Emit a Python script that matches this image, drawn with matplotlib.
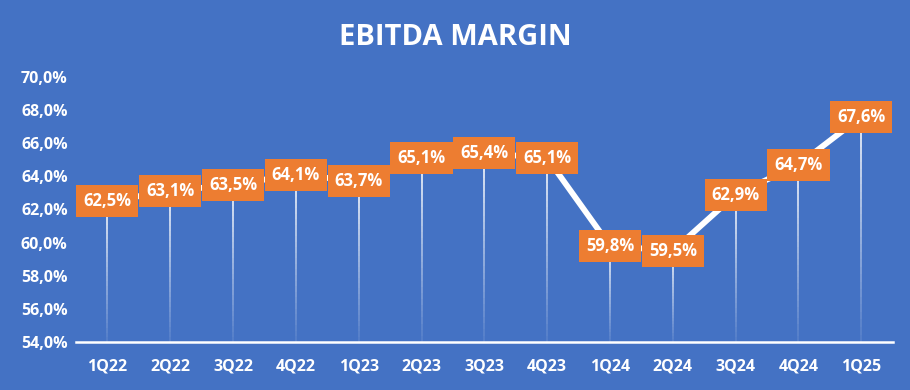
import matplotlib.pyplot as plt
import numpy as np

quarters = ["1Q22", "2Q22", "3Q22", "4Q22", "1Q23", "2Q23", "3Q23", "4Q23",
            "1Q24", "2Q24", "3Q24", "4Q24", "1Q25"]
margin = [62.5, 63.1, 63.5, 64.1, 63.7, 65.1, 65.4, 65.1, 59.8, 59.5, 62.9, 64.7, 67.6]
yticks = [54, 56, 58, 60, 62, 64, 66, 68, 70]

bg = "#4472C4"
orange = "#ED7D31"
plt.rcParams['font.family'] = ['Open Sans', 'DejaVu Sans']

fig = plt.figure(figsize=(9.1, 3.9), dpi=100, facecolor=bg)
ax = fig.add_axes((0.0835, 0.123, 0.8975, 0.68))
ax.set_facecolor(bg)

x = np.arange(len(quarters))

# drop lines fading toward the bottom
n = 30
for xi, yi in zip(x, margin):
    edges = np.linspace(54, yi, n + 1)
    for k in range(n):
        a = 0.1 + 0.9 * (k / (n - 1))
        ax.plot([xi, xi], [edges[k], edges[k + 1]], color="white", lw=1.2,
                alpha=a, solid_capstyle="butt", zorder=1)

ax.plot(x, margin, color="white", lw=4.2, zorder=2, solid_capstyle="butt")

for xi, yi in zip(x, margin):
    ax.text(xi, yi, f"{yi:.1f}%".replace(".", ","), ha="center", va="center",
            color="white", fontsize=12, fontweight="bold", zorder=3,
            bbox=dict(boxstyle="square,pad=0.42", fc=orange, ec="none"))

ax.set_xlim(-0.5, len(quarters) - 0.5)
ax.set_ylim(54, 70)
ax.set_xticks(x)
ax.set_xticklabels(quarters)
ax.set_yticks(yticks)
ax.set_yticklabels([f"{v:.1f}%".replace(".", ",") for v in yticks])
ax.tick_params(length=0, colors="white", labelsize=11.5)
ax.tick_params(axis="x", pad=12)
ax.tick_params(axis="y", pad=6)
for lab in ax.get_xticklabels() + ax.get_yticklabels():
    lab.set_fontweight("bold")
for s in ["top", "right", "left"]:
    ax.spines[s].set_visible(False)
ax.spines["bottom"].set_color("white")
ax.spines["bottom"].set_linewidth(1.8)

fig.text(0.5, 0.905, "EBITDA MARGIN", ha="center", va="center", color="white",
         fontsize=21, fontweight="bold")

fig.savefig("out.png", facecolor=bg)
